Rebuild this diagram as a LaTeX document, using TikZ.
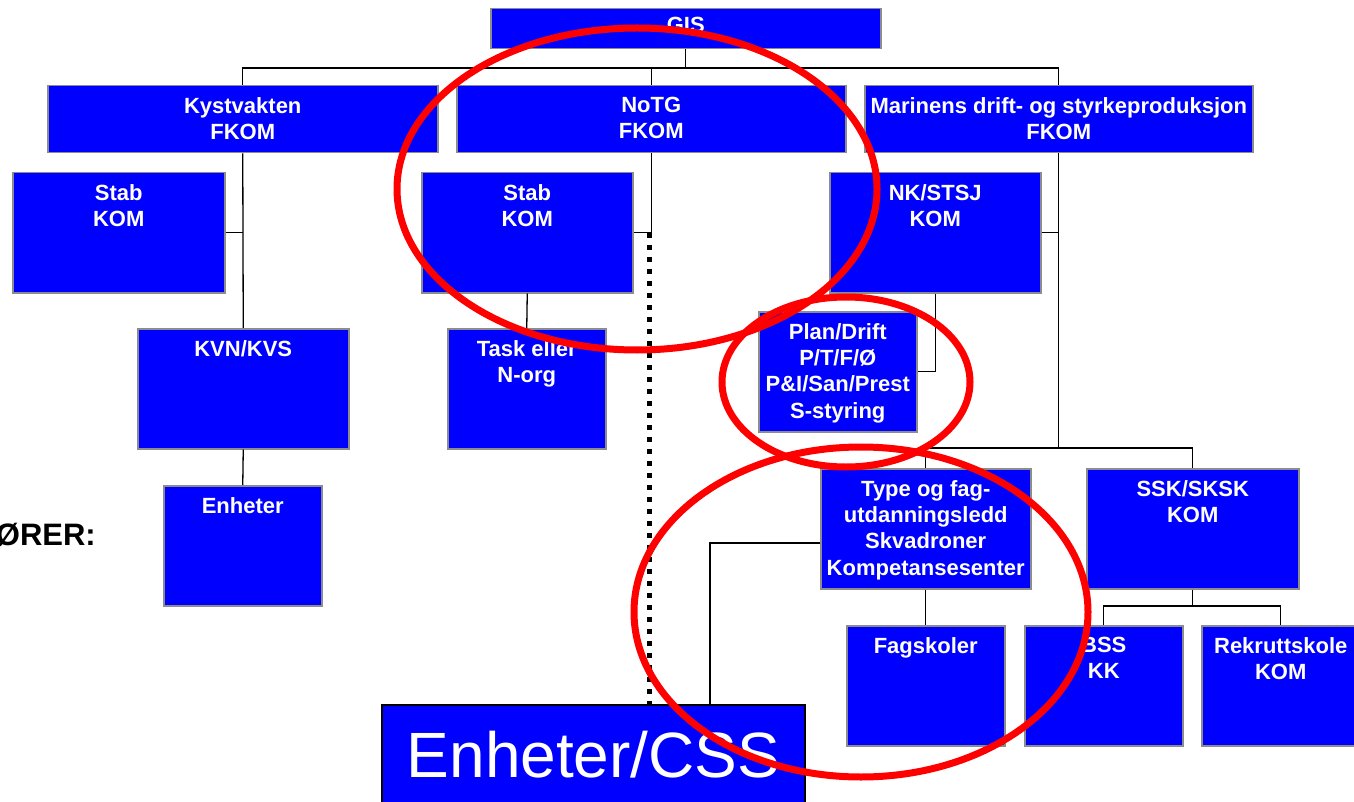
\documentclass[tikz,border=0pt]{standalone}
\usepackage{fontspec}
\setmainfont{Liberation Sans}
\usetikzlibrary{calc}
\definecolor{boxblue}{RGB}{0,0,255}
\definecolor{boxedge}{RGB}{140,140,140}
\definecolor{ringred}{RGB}{255,0,0}
\begin{document}
\begin{tikzpicture}[x=1pt,y=-1pt,
  box/.style={draw=boxedge, line width=1.5pt, fill=boxblue, inner sep=0pt, anchor=north west},
  lbl/.style={text=white, font=\bfseries\fontsize{22}{26.3}\selectfont, align=center, inner sep=0pt, anchor=north},
  conn/.style={draw=black, line width=1.3pt},
  dotline/.style={draw=black, line width=5.5pt, dash pattern=on 5.5pt off 6.5pt},
  ring/.style={draw=ringred, line width=7pt}]
\useasboundingbox (0,0) rectangle (1354,802);
\fill[white] (0,0) rectangle (1354,802);
% bus coordinates
\coordinate (bus1) at (0,68);
\coordinate (bus2) at (0,448);
\coordinate (bus3) at (0,606);
\coordinate (cssj) at (710,543);
% boxes
\node[box, minimum width=390pt, minimum height=40pt] (gis) at (490,8) {};
\node[box, minimum width=390pt, minimum height=67pt] (kyst) at (47,85) {};
\node[box, minimum width=389pt, minimum height=67pt] (notg) at (456,85) {};
\node[box, minimum width=388pt, minimum height=67pt] (mar) at (864,85) {};
\node[box, minimum width=212pt, minimum height=120pt] (stabA) at (12,172) {};
\node[box, minimum width=211pt, minimum height=120pt] (kvn) at (137,328) {};
\node[box, minimum width=158pt, minimum height=120pt] (enh) at (163,485) {};
\node[box, minimum width=211pt, minimum height=120pt] (stabB) at (421,172) {};
\node[box, minimum width=158pt, minimum height=120pt] (task) at (447,328) {};
\node[box, minimum width=211pt, minimum height=120pt] (nk) at (829,172) {};
\node[box, minimum width=158pt, minimum height=120pt] (plan) at (758,311) {};
\node[box, minimum width=210pt, minimum height=120pt] (type) at (820,468) {};
\node[box, minimum width=212pt, minimum height=120pt] (ssk) at (1086,468) {};
\node[box, minimum width=158pt, minimum height=120pt] (fag) at (846,625) {};
\node[box, minimum width=158pt, minimum height=120pt] (bss) at (1024,625) {};
\node[box, minimum width=158pt, minimum height=120pt] (rek) at (1201,625) {};
\node[box, draw=black, line width=2pt, minimum width=423pt, minimum height=110pt] (css) at (381,704) {};
% labels
\node[lbl] (gisT) at ($(gis.north)+(0,9)$) {GIS};
\node[lbl] (kystT) at ($(kyst.north)+(0,12)$) {Kystvakten\\FKOM};
\node[lbl] (notgT) at ($(notg.north)+(0,12)$) {NoTG\\FKOM};
\node[lbl] (marT) at ($(mar.north)+(0,12)$) {Marinens drift- og styrkeproduksjon\\FKOM};
\node[lbl] (stabAT) at ($(stabA.north)+(0,12)$) {Stab\\KOM};
\node[lbl] (kvnT) at ($(kvn.north)+(0,12)$) {KVN/KVS};
\node[lbl] (enhT) at ($(enh.north)+(0,12)$) {Enheter};
\node[lbl] (stabBT) at ($(stabB.north)+(0,12)$) {Stab\\KOM};
\node[lbl] (taskT) at ($(task.north)+(0,12)$) {Task eller\\N-org};
\node[lbl] (nkT) at ($(nk.north)+(0,12)$) {NK/STSJ\\KOM};
\node[lbl] (planT) at ($(plan.north)+(0,12)$) {Plan/Drift\\P/T/F/Ø\\P\&I/San/Prest\\S-styring};
\node[lbl] (typeT) at ($(type.north)+(0,12)$) {Type og fag-\\utdanningsledd\\Skvadroner\\Kompetansesenter};
\node[lbl] (sskT) at ($(ssk.north)+(0,12)$) {SSK/SKSK\\KOM};
\node[lbl] (fagT) at ($(fag.north)+(0,12)$) {Fagskoler};
\node[lbl] (bssT) at ($(bss.north)+(0,12)$) {BSS\\KK};
\node[lbl] (rekT) at ($(rek.north)+(0,12)$) {Rekruttskole\\KOM};
\node[text=white, font=\fontsize{64}{70}\selectfont, inner sep=0pt, anchor=base] (cssT) at ($(css.north)+(0,73)$) {Enheter/CSS};
\node[text=black, font=\bfseries\fontsize{31}{36}\selectfont, inner sep=0pt, anchor=base east] (forer) at (96,545) {ØRER:};
% connectors
\draw[conn] (gis.south) -- (gis.south |- bus1);
\draw[conn] (kyst.north) -- (kyst.north |- bus1) -- (mar.north |- bus1) -- (mar.north);
\draw[conn] (notg.north) -- (notg.north |- bus1);
\draw[conn] (kyst.south) -- (kvn.north);
\draw[conn] (stabA.east) -- (stabA.east -| kyst.south);
\draw[conn] (kvn.south) -- (enh.north);
\draw[conn] (notg.south) |- (stabB.east);
\draw[dotline] ([xshift=-2pt]notg.south |- stabB.east) -- ([xshift=-2pt]notg.south |- css.north);
\draw[conn] (stabB.south) -- (task.north);
\draw[conn] (mar.south) -- (mar.south |- bus2);
\draw[conn] (nk.east) -- (nk.east -| mar.south);
\draw[conn] (nk.south) |- (plan.east);
\draw[conn] (type.north) -- (type.north |- bus2) -- (ssk.north |- bus2) -- (ssk.north);
\draw[conn] (type.south) -- (fag.north);
\draw[conn] (ssk.south) -- (ssk.south |- bus3);
\draw[conn] (bss.north) -- (bss.north |- bus3) -- (rek.north |- bus3) -- (rek.north);
\draw[conn] (type.west |- cssj) -- (cssj) -- (cssj |- css.north);
% red rings
\draw[ring] (637,189) ellipse [x radius=240pt, y radius=161pt];
\draw[ring] (846,382) ellipse [x radius=124pt, y radius=85pt];
\draw[ring] (861,612) ellipse [x radius=227pt, y radius=165pt];
\end{tikzpicture}
\end{document}
